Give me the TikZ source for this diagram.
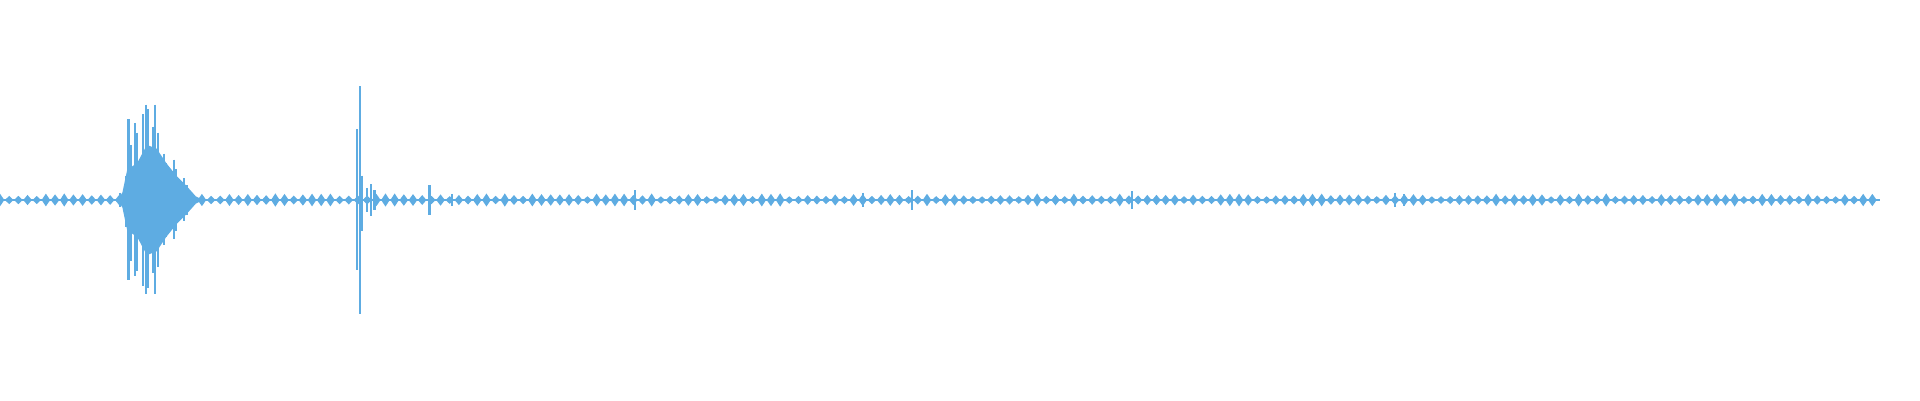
\documentclass[tikz,border=0pt]{standalone}
\usepackage{tikz}
\definecolor{wave}{RGB}{94,172,226}
\tikzset{
  spike/.style={draw=wave, line width=0.6pt},
  blob/.style={fill=wave, draw=none},
}
\begin{document}
\begin{tikzpicture}
\useasboundingbox (0,0) rectangle (19.2,4);
\begin{scope}[x=0.012245cm, y=-0.012245cm, shift={(0,2cm)}]
  % baseline blobs
  \pgfmathsetseed{7}
  \foreach \x in {0,7.5,...,1536}{
    \pgfmathsetmacro{\a}{3+2.5*rnd}
    \fill[blob] (\x-3.5,0) -- (\x,\a) -- (\x+3.5,0) -- (\x,-\a) -- cycle;
  }
  \draw[spike, line width=0.5pt] (0,0) -- (1536,0);
  % burst envelope
  \fill[blob] (96,0) -- (100,-6) -- (104,-25) -- (112,-30) -- (120,-45) -- (128,-42)
    -- (136,-30) -- (144,-20) -- (152,-12) -- (160,-3) -- (166,0)
    -- (160,3) -- (152,12) -- (144,20) -- (136,30) -- (128,42) -- (120,45)
    -- (112,30) -- (104,25) -- (100,6) -- cycle;
  % spikes: x / up / down
  \foreach \x/\u/\d in {98/6/6, 103/20/22, 105/66/65, 107/45/50, 110/63/62, 112/55/58,
      117/70/70, 119/78/77, 121/74/72, 125/60/60, 127/78/77, 129/55/55, 134/38/37,
      136/30/30, 142/33/32, 144/25/25, 150/18/17, 153/12/12, 157/6/6,
      292/58/57, 294/93/93, 296/20/25, 300/10/10, 303/13/13, 306/8/8,
      351/12/12, 369/5/5, 519/8/8, 705/6/6, 745/8/8, 925/7/7, 1140/6/6, 1147/5/5}
    \draw[spike] (\x,-\u) -- (\x,\d);
\end{scope}
\end{tikzpicture}
\end{document}
